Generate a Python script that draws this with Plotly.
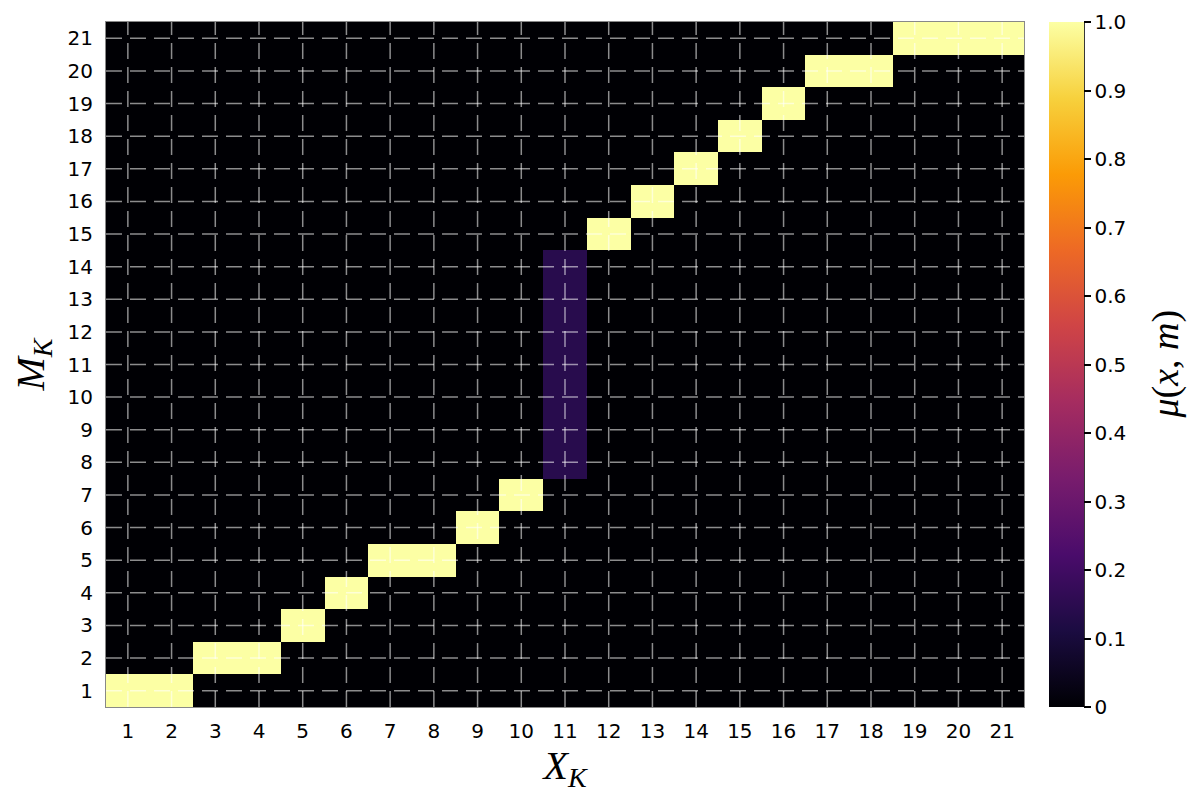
import plotly.graph_objects as go
import plotly.express as px

# x states, and which m-rows are occupied in each x column
x_states = list(range(1, 22))
m_states = list(range(1, 22))
col_rows = [
    [1], [1], [2], [2], [3], [4], [5], [5], [6], [7],
    [8, 9, 10, 11, 12, 13, 14],
    [15], [16], [17], [18], [19], [20], [20], [21], [21], [21],
]
col_values = [1, 1, 1, 1, 1, 1, 1, 1, 1, 1, 1 / 7,
              1, 1, 1, 1, 1, 1, 1, 1, 1, 1]
cbar_ticks = [0, 0.1, 0.2, 0.3, 0.4, 0.5, 0.6, 0.7, 0.8, 0.9, 1.0]
cbar_labels = ["0", "0.1", "0.2", "0.3", "0.4", "0.5", "0.6", "0.7", "0.8", "0.9", "1.0"]

# build the z matrix (rows = m, cols = x)
z = [[0.0] * len(x_states) for _ in m_states]
for ci, rows in enumerate(col_rows):
    for m in rows:
        z[m_states.index(m)][ci] = col_values[ci]

tick_font = dict(family="DejaVu Sans", size=20, color="black")

fig = go.Figure(go.Heatmap(
    z=z, x=x_states, y=m_states,
    colorscale=px.colors.sequential.Inferno,
    zmin=0, zmax=1,
    colorbar=dict(
        x=1.027, xanchor="left", xpad=0, y=0.5, yanchor="middle", ypad=0,
        len=1, lenmode="fraction",
        thickness=35, outlinewidth=0,
        tickvals=cbar_ticks, ticktext=cbar_labels,
        ticks="outside", ticklen=7, tickcolor="black", tickwidth=1.5,
        tickfont=tick_font,
    ),
))

# dashed grid drawn over the heatmap
grid_style = dict(color="rgba(255,255,255,0.55)", width=1.5, dash="16px,8px")
for v in x_states:
    fig.add_shape(type="line", xref="x", yref="paper", x0=v, x1=v, y0=0, y1=1,
                  line=grid_style, layer="above")
for v in m_states:
    fig.add_shape(type="line", xref="paper", yref="y", x0=0, x1=1, y0=v, y1=v,
                  line=grid_style, layer="above")

# colorbar axis line
fig.add_shape(type="line", xref="paper", yref="paper", x0=1.0654, x1=1.0654, y0=0, y1=1,
              line=dict(color="black", width=1.5))

# colorbar title
fig.add_annotation(
    text="<i>μ</i>(<i>x</i>, <i>m</i>)", xref="paper", yref="paper",
    x=1.1536, y=0.5, xanchor="center", yanchor="middle", textangle=-90,
    showarrow=False, font=dict(family="Liberation Serif", size=38, color="black"),
)

fig.update_xaxes(
    range=[0.5, 21.5], tickvals=x_states, ticks="", showgrid=False, zeroline=False,
    showline=True, linecolor="#888888", linewidth=1, mirror=True, automargin=False,
    tickfont=tick_font, ticklabelstandoff=6,
    title=dict(text="<i>X</i><sub><i>K</i></sub>", standoff=8,
               font=dict(family="Liberation Serif", size=40, color="black")),
)
fig.update_yaxes(
    range=[0.5, 21.5], tickvals=m_states, ticks="", showgrid=False, zeroline=False,
    showline=True, linecolor="#888888", linewidth=1, mirror=True, automargin=False,
    tickfont=tick_font, ticklabelstandoff=8,
    title=dict(text="<i>M</i><sub><i>K</i></sub>", standoff=18,
               font=dict(family="Liberation Serif", size=40, color="black")),
)

# the page adds ~8px of body margin, so shift the plot area up/left to compensate
fig.update_layout(
    width=1200, height=800,
    margin=dict(l=98, r=184, t=14, b=101, autoexpand=False),
    plot_bgcolor="white", paper_bgcolor="white",
)

fig.write_html("out.html")
